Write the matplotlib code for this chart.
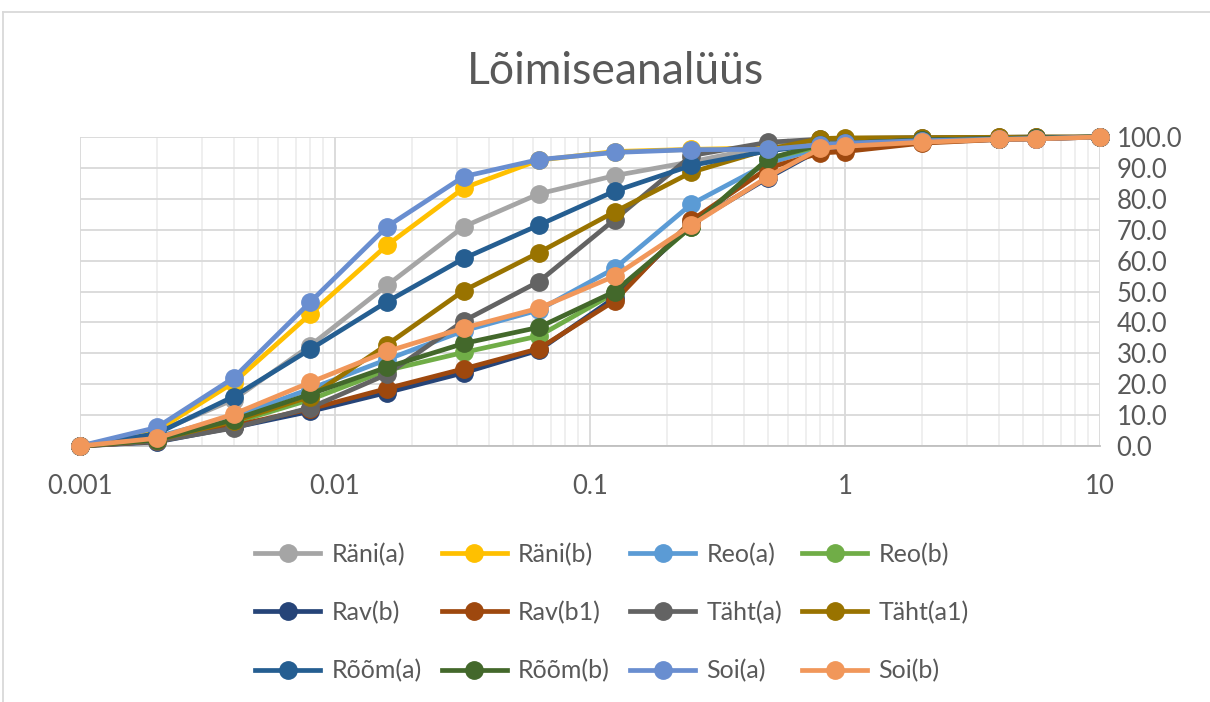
import matplotlib
matplotlib.use('Agg')
import matplotlib.pyplot as plt
from matplotlib.ticker import LogLocator, FuncFormatter, MultipleLocator, NullFormatter
from matplotlib.lines import Line2D

plt.rcParams['font.family'] = ['Lato', 'DejaVu Sans']

# osakeste suurus, mm
sizes = [0.001, 0.002, 0.004, 0.008, 0.016, 0.032, 0.063, 0.125, 0.25, 0.5, 0.8, 1, 2, 4, 5.6, 10]

rani_a = [0, 4.5, 15, 32.5, 52, 71, 81.6, 87.5, 92, 97, 98.5, 99, 99.5, 99.7, 99.8, 100]
rani_b = [0, 5, 20.5, 42.7, 65, 83.5, 92.5, 95.3, 96, 96.5, 97.5, 98, 99, 99.5, 99.7, 100]
reo_a = [0, 3, 9.5, 18.5, 28, 37.3, 44, 57.5, 78.3, 91.5, 96.5, 97, 98.5, 99.3, 99.6, 100]
reo_b = [0, 2, 7.5, 15, 24.5, 30.3, 35.6, 49.5, 71, 93, 97, 97.8, 99, 99.5, 99.7, 100]
rav_b = [0, 1.3, 6, 11.2, 17.3, 23.7, 31, 48, 72, 86.8, 96, 96.5, 98.3, 99.2, 99.4, 100]
rav_b1 = [0, 1.5, 6.5, 12, 18.6, 25, 31.5, 47, 73, 90, 94.8, 95.3, 98, 99.2, 99.4, 100]
taht_a = [0, 1.5, 5.8, 12.4, 23.2, 40.5, 53.2, 73.3, 94, 98.3, 99.3, 99.5, 99.8, 99.9, 100, 100]
taht_a1 = [0, 2, 8, 16, 32.8, 50.3, 62.6, 75.8, 88.6, 96, 99.5, 99.7, 99.8, 99.9, 100, 100]
room_a = [0, 4, 16, 31.3, 46.7, 60.7, 71.5, 82.5, 90.8, 95.5, 97.5, 98, 99, 99.5, 99.7, 100]
room_b = [0, 2, 8.5, 16.8, 25.5, 33.2, 38.4, 50, 71, 93, 97.5, 98, 99, 99.5, 99.7, 100]
soi_a = [0, 6, 22, 46.6, 71, 87.2, 92.7, 95, 95.9, 96, 97.5, 98, 98.8, 99.3, 99.5, 100]
soi_b = [0, 2.5, 10.3, 20.6, 30.6, 38.2, 44.6, 55, 71.5, 87.2, 96.3, 97, 98.3, 99.2, 99.4, 100]

names = ['Räni(a)', 'Räni(b)', 'Reo(a)', 'Reo(b)', 'Rav(b)', 'Rav(b1)',
         'Täht(a)', 'Täht(a1)', 'Rõõm(a)', 'Rõõm(b)', 'Soi(a)', 'Soi(b)']
series = [rani_a, rani_b, reo_a, reo_b, rav_b, rav_b1,
          taht_a, taht_a1, room_a, room_b, soi_a, soi_b]
colors = ['#A5A5A5', '#FFC000', '#5B9BD5', '#70AD47', '#264478', '#9E480E',
          '#636363', '#997300', '#255E91', '#43682B', '#698ED0', '#F1975A']

txt = '#595959'

fig = plt.figure(figsize=(12.1, 7.02), dpi=100)
ax = fig.add_axes([80 / 1210, 1 - 446 / 702, 1020 / 1210, 309 / 702])

for name, vals, c in zip(names, series, colors):
    ax.plot(sizes, vals, color=c, lw=3.4, marker='o', ms=12.5,
            label=name, clip_on=False, zorder=3)

ax.set_xscale('log')
ax.set_xlim(0.001, 10)
ax.set_ylim(0, 100)
ax.xaxis.set_major_locator(LogLocator(base=10, numticks=10))
ax.xaxis.set_minor_locator(LogLocator(base=10, subs=range(2, 10), numticks=20))
ax.xaxis.set_minor_formatter(NullFormatter())
ax.xaxis.set_major_formatter(FuncFormatter(lambda v, p: f'{v:g}'))
ax.yaxis.set_major_locator(MultipleLocator(10))
ax.yaxis.set_major_formatter(FuncFormatter(lambda v, p: f'{v:.1f}'))
ax.yaxis.tick_right()

ax.grid(True, which='major', color='#D9D9D9', lw=1.3, zorder=0)
ax.grid(True, which='minor', axis='x', color='#EEEEEE', lw=1.3, zorder=0)
ax.set_axisbelow(True)
for s in ['top', 'left', 'right']:
    ax.spines[s].set_visible(False)
ax.spines['bottom'].set_color('#BFBFBF')
ax.spines['bottom'].set_linewidth(1.3)
ax.tick_params(which='both', length=0, labelsize=18.5, colors=txt)
ax.tick_params(axis='x', pad=20)
ax.tick_params(axis='y', pad=12)

fig.text(616 / 1210, 1 - 72 / 702, 'Lõimiseanalüüs', ha='center', va='center',
         fontsize=32, color=txt)

# raam
fig.add_artist(Line2D([3 / 1210, 3 / 1210], [0, 1 - 12 / 702], color='#D9D9D9', lw=1.3))
fig.add_artist(Line2D([3 / 1210, 1], [1 - 12 / 702, 1 - 12 / 702], color='#D9D9D9', lw=1.3))

handles, labels = ax.get_legend_handles_labels()
order = [0, 4, 8, 1, 5, 9, 2, 6, 10, 3, 7, 11]
fig.legend([handles[i] for i in order], [labels[i] for i in order],
           loc='upper center', bbox_to_anchor=(612 / 1210, 1 - 530 / 702),
           ncol=4, frameon=False, fontsize=18, labelcolor=txt,
           handlelength=2.6, handletextpad=0.45, columnspacing=0.8,
           labelspacing=1.4, borderpad=0)

fig.savefig('out.png', dpi=100)
